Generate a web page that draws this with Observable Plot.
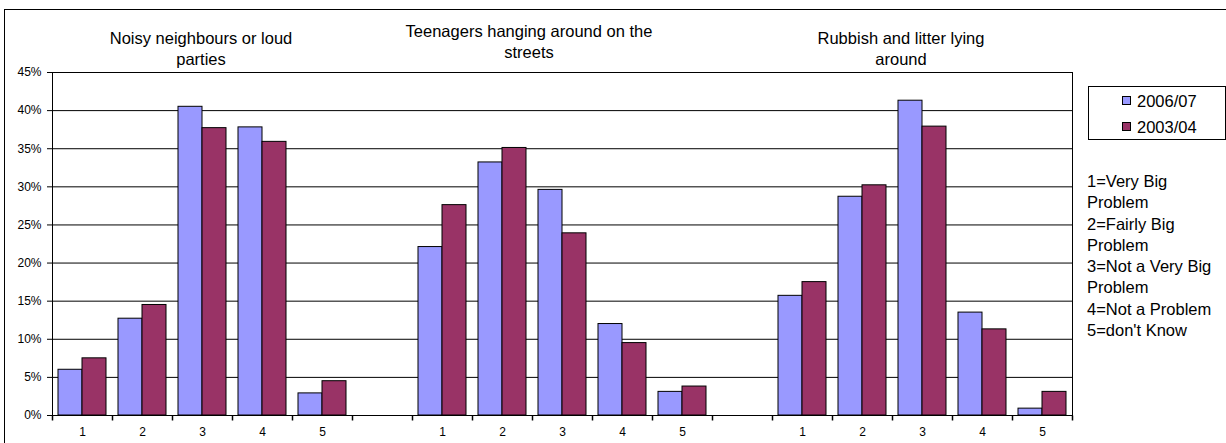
<!DOCTYPE html>
<html>
<head>
<meta charset="utf-8">
<script src="https://cdn.jsdelivr.net/npm/d3@7"></script>
<script src="https://cdn.jsdelivr.net/npm/@observablehq/plot@0.6"></script>
<style>
  html, body { margin: 0; padding: 0; background: #fff; }
  #chart { position: relative; width: 1226px; height: 443px; overflow: hidden;
           font-family: "Liberation Sans", Arial, sans-serif; color: #000; background: #fff; }
  #chart svg { position: absolute; left: 0; top: 0; }
  .outer { position: absolute; left: 4px; top: 9px; width: 1260px; height: 480px;
           border: 1px solid #000; box-sizing: border-box; pointer-events: none; }
  .title { position: absolute; width: 300px; text-align: center; font-size: 16.5px;
           line-height: 21px; white-space: pre-line; }
  .legend { position: absolute; left: 1088px; top: 86px; width: 138px; height: 54px;
            border: 1px solid #000; box-sizing: border-box; background: #fff; }
  .lgitem { position: absolute; left: 1137px; font-size: 16.5px; line-height: 26px; white-space: nowrap; }
  .swatch { position: absolute; left: 1122px; width: 9px; height: 9px; border: 1px solid #000; box-sizing: border-box; }
  .key { position: absolute; left: 1087px; top: 171px; width: 134px; font-size: 16.5px; line-height: 21.3px; }
</style>
</head>
<body>
<div id="chart"></div>
<script>
// ---- data ----
const categories = [
  "Noisy neighbours or loud\nparties",
  "Teenagers hanging around on the\nstreets",
  "Rubbish and litter lying\naround"
];
const responses = ["1", "2", "3", "4", "5"];
const series = ["2006/07", "2003/04"];
const noisy2006 = [6.0, 12.7, 40.5, 37.8, 2.9];
const noisy2003 = [7.5, 14.5, 37.7, 35.9, 4.5];
const teen2006 = [22.1, 33.2, 29.6, 12.0, 3.1];
const teen2003 = [27.6, 35.1, 23.9, 9.5, 3.8];
const rubbish2006 = [15.7, 28.7, 41.3, 13.5, 0.9];
const rubbish2003 = [17.5, 30.2, 37.9, 11.3, 3.1];
const yTicks = [0, 5, 10, 15, 20, 25, 30, 35, 40, 45];
const keyLabels = [
  "1=Very Big Problem",
  "2=Fairly Big Problem",
  "3=Not a Very Big Problem",
  "4=Not a Problem",
  "5=don't Know"
];

// ---- styles / layout ----
const seriesColors = ["#9999FF", "#993366"];
const titleCenters = [201, 529, 901];
const titleTops = [28, 21, 28];

// ---- build table ----
const values = [[noisy2006, noisy2003], [teen2006, teen2003], [rubbish2006, rubbish2003]];
const slots = [];
categories.forEach((c, g) => {
  responses.forEach(r => slots.push(g + "|" + r));
  if (g < categories.length - 1) slots.push("gap" + g);
});
const rows = [];
values.forEach((pair, g) => {
  pair.forEach((vals, s) => {
    vals.forEach((v, i) => rows.push({slot: g + "|" + responses[i], series: series[s], value: v}));
  });
});
const slotLabel = s => s.startsWith("gap") ? "" : s.split("|")[1];

// vertical tick symbol (length = r)
const vtick = {
  draw(ctx, size) {
    const l = Math.sqrt(size / Math.PI);
    ctx.moveTo(0, 0);
    ctx.lineTo(0, l);
  }
};

const plot = Plot.plot({
  width: 1226,
  height: 443,
  marginLeft: 49,
  marginRight: 152,
  marginTop: 72,
  marginBottom: 28,
  style: {fontFamily: '"Liberation Sans", Arial, sans-serif', fontSize: "12px", background: "transparent", color: "#000", overflow: "visible"},
  fx: {domain: slots, padding: 0, label: null},
  x: {domain: series, paddingInner: 0, paddingOuter: 0.25, axis: null},
  y: {domain: [0, 45], label: null},
  color: {domain: series, range: seriesColors},
  marks: [
    Plot.gridY(yTicks, {stroke: "#000", strokeOpacity: 1}),
    Plot.barY(rows, {fx: "slot", x: "series", y: "value", fill: "series", stroke: "#000", strokeWidth: 1}),
    Plot.axisY(yTicks, {tickFormat: d => d + "%", tickSize: 5, tickPadding: 6, fontSize: 12, label: null}),
    Plot.frame({anchor: "left", facetAnchor: "left", stroke: "#000"}),
    Plot.frame({anchor: "right", facetAnchor: "right", stroke: "#000"}),
    Plot.axisFx({anchor: "bottom", tickSize: 0, tickPadding: 12, tickFormat: slotLabel, label: null, fontSize: 12}),
    Plot.dot(slots, {fx: d => d, frameAnchor: "bottom-left", symbol: vtick, r: 5, stroke: "#000", fill: "none"}),
    Plot.dot([slots[slots.length - 1]], {fx: d => d, frameAnchor: "bottom-right", symbol: vtick, r: 5, stroke: "#000", fill: "none"})
  ]
});

const chart = document.getElementById("chart");
chart.appendChild(plot);

// outer chart border
const outer = document.createElement("div");
outer.className = "outer";
chart.appendChild(outer);

// panel titles
categories.forEach((t, i) => {
  const d = document.createElement("div");
  d.className = "title";
  d.textContent = t;
  d.style.left = (titleCenters[i] - 150) + "px";
  d.style.top = titleTops[i] + "px";
  chart.appendChild(d);
});

// legend
const lg = document.createElement("div");
lg.className = "legend";
chart.appendChild(lg);
const swatchTops = [96, 122];
const itemTops = [88, 114];
series.forEach((s, i) => {
  const sw = document.createElement("div");
  sw.className = "swatch";
  sw.style.top = swatchTops[i] + "px";
  sw.style.background = seriesColors[i];
  chart.appendChild(sw);
  const t = document.createElement("div");
  t.className = "lgitem";
  t.style.top = itemTops[i] + "px";
  t.textContent = s;
  chart.appendChild(t);
});

// response key
const key = document.createElement("div");
key.className = "key";
keyLabels.forEach(k => {
  const line = document.createElement("div");
  line.textContent = k;
  key.appendChild(line);
});
chart.appendChild(key);
</script>
</body>
</html>
